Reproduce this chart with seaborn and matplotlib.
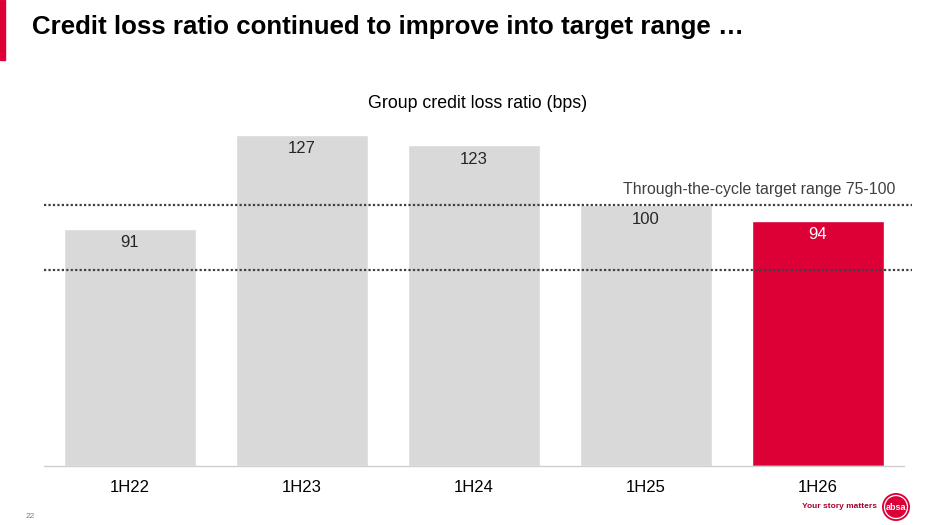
import pandas as pd
import matplotlib.pyplot as plt
import seaborn as sns
from matplotlib.patches import Ellipse, Rectangle

periods = ['1H22', '1H23', '1H24', '1H25', '1H26']
clr_bps = [91, 127, 123, 100, 94]
bar_colors = ['#d9d9d9', '#d9d9d9', '#d9d9d9', '#d9d9d9', '#dc0037']
label_colors = ['#262626', '#262626', '#262626', '#262626', '#ffffff']
target_low, target_high = 75, 100

sns.set_theme(style='white')
plt.rcParams['font.family'] = ['Liberation Sans', 'DejaVu Sans']

df = pd.DataFrame({'period': periods, 'bps': clr_bps})

fig = plt.figure(figsize=(9.4, 5.25), dpi=100)
ax = fig.add_axes([44 / 940, 59 / 525, 860 / 940, 352 / 525])

sns.barplot(data=df, x='period', y='bps', hue='period', palette=bar_colors,
            width=0.767, legend=False, ax=ax, saturation=1)

for i, (v, c) in enumerate(zip(clr_bps, label_colors)):
    ax.annotate(str(v), (i, v), xytext=(0, -10), textcoords='offset points',
                ha='center', va='center', fontsize=12, color=c)

# target range lines run a little past the plot area
for y in (target_low, target_high):
    ax.plot([-0.5, 4.547], [y, y], color='#404040', linestyle=(0, (1, 1)),
            linewidth=1.6, zorder=3, clip_on=False)
ax.text(4.45, target_high + 6.2, 'Through-the-cycle target range 75-100',
        ha='right', va='center', fontsize=11.4, color='#404040')

ax.set_xlim(-0.5, 4.5)
ax.set_ylim(0, 135)
ax.set_xlabel('')
ax.set_ylabel('')
ax.set_yticks([])
ax.tick_params(axis='x', length=0, labelsize=12, labelcolor='#000000', pad=10)
for s in ['top', 'left', 'right']:
    ax.spines[s].set_visible(False)
ax.spines['bottom'].set_color('#d0d0d0')
ax.spines['bottom'].set_linewidth(1)

# slide furniture
fig.patches.append(Rectangle((0, 1 - 60 / 525), 5 / 940, 60 / 525,
                             transform=fig.transFigure, color='#dc0037'))
fig.text(32 / 940, 1 - 27 / 525, 'Credit loss ratio continued to improve into target range …',
         fontsize=18.6, fontweight='bold', va='center', ha='left', color='#000000')
fig.text(478 / 940, 1 - 103 / 525, 'Group credit loss ratio (bps)',
         fontsize=12.8, ha='center', va='center', color='#000000')
fig.text(26 / 940, 1 - 517 / 525, '22', fontsize=6, color='#7f7f7f',
         ha='left', va='center')
fig.text(877 / 940, 1 - 506 / 525, 'Your story matters', fontsize=6,
         fontweight='bold', color='#a8002a', ha='right', va='center')
logo_xy = (896 / 940, 1 - 507 / 525)
fig.patches.append(Ellipse(logo_xy, 28 / 940, 28 / 525, transform=fig.transFigure,
                           facecolor='#dc0037', edgecolor='none'))
fig.patches.append(Ellipse(logo_xy, 23 / 940, 23 / 525, transform=fig.transFigure,
                           facecolor='none', edgecolor='white', linewidth=0.9))
fig.text(logo_xy[0], logo_xy[1], 'absa', fontsize=6.5, fontweight='bold',
         color='white', ha='center', va='center')

fig.savefig('out.png', dpi=100)
plt.close(fig)
